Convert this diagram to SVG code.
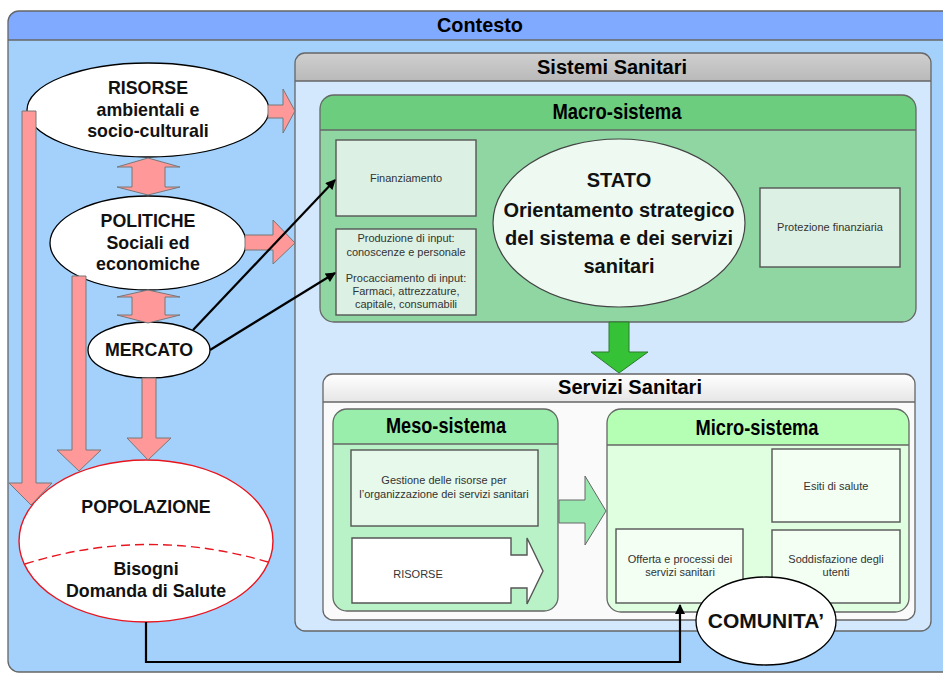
<svg xmlns="http://www.w3.org/2000/svg" width="943" height="674" viewBox="0 0 943 674">
<defs>
<linearGradient id="gGray" x1="0" y1="0" x2="0" y2="1"><stop offset="0" stop-color="#cfcfcf"/><stop offset="1" stop-color="#b9b9b9"/></linearGradient>
<linearGradient id="gLight" x1="0" y1="0" x2="0" y2="1"><stop offset="0" stop-color="#ffffff"/><stop offset="1" stop-color="#e6e6e6"/></linearGradient>
<marker id="ah2" viewBox="0 0 10 10" refX="9" refY="5" markerWidth="12" markerHeight="10" orient="auto" markerUnits="userSpaceOnUse"><path d="M0,0 L10,5 L0,10 z" fill="#000"/></marker>
</defs>
<style>
.frame{stroke:#666;stroke-width:1.3}
.sep{stroke:#666;stroke-width:1.3}
.hd{font-family:"Liberation Sans",Arial,sans-serif;font-weight:bold;fill:#000;text-anchor:middle}
.el{fill:#fff;stroke:#000;stroke-width:1.3}
.et{font-family:"Liberation Sans",Arial,sans-serif;font-weight:bold;font-size:17.8px;fill:#111;text-anchor:middle}
.et20{font-size:20px}
.et21{font-size:21px}
.box{stroke:#555;stroke-width:1.4}
.st{font-family:"Liberation Sans",Arial,sans-serif;font-size:11px;fill:#333;text-anchor:middle}
.pink{fill:#ff9898;stroke:#777;stroke-width:1}
.blk{fill:none;stroke:#000;stroke-width:2.2}
</style>
<rect width="943" height="674" fill="#fff"/>

<g id="contesto">
<rect x="8" y="11" width="960" height="661" rx="11" fill="#a3d1fb"/>
<path d="M8,40 V22 Q8,11 19,11 H968 V40 Z" fill="#80aaff"/>
<rect x="8" y="11" width="960" height="661" rx="11" fill="none" class="frame"/>
<line x1="8" y1="40" x2="943" y2="40" class="sep"/>
<text x="480" y="32" class="hd" font-size="21" textLength="86" lengthAdjust="spacingAndGlyphs">Contesto</text>
</g>

<g id="sistemi-sanitari">
<rect x="295" y="53" width="636" height="578" rx="10" fill="#d3e8fd"/>
<path d="M295,81 V63 Q295,53 305,53 H921 Q931,53 931,63 V81 Z" fill="url(#gGray)"/>
<rect x="295" y="53" width="636" height="578" rx="10" fill="none" class="frame"/>
<line x1="295" y1="81" x2="931" y2="81" class="sep"/>
<text x="612" y="74" class="hd" font-size="20" textLength="150" lengthAdjust="spacingAndGlyphs">Sistemi Sanitari</text>
</g>

<g id="macro-sistema">
<rect x="320" y="95" width="596" height="227" rx="14" fill="#8fd6a3"/>
<path d="M320,130 V109 Q320,95 334,95 H902 Q916,95 916,109 V130 Z" fill="#6dcd7f"/>
<rect x="320" y="95" width="596" height="227" rx="14" fill="none" class="frame"/>
<line x1="320" y1="130" x2="916" y2="130" class="sep"/>
<text x="617" y="119" class="hd" font-size="22" textLength="129" lengthAdjust="spacingAndGlyphs">Macro-sistema</text>
</g>

<g id="finanziamento">
<rect x="336" y="140" width="140" height="76" fill="#dcf1e3" class="box"/>
<text x="406" y="182" class="st">Finanziamento</text>
</g>

<g id="produzione">
<rect x="336" y="229" width="140" height="86" fill="#dcf1e3" class="box"/>
<text x="406" y="242" class="st">Produzione di input:</text>
<text x="406" y="256" class="st">conoscenze e personale</text>
<text x="406" y="282" class="st">Procacciamento di input:</text>
<text x="406" y="295" class="st">Farmaci, attrezzature,</text>
<text x="406" y="308" class="st">capitale, consumabili</text>
</g>

<g id="stato">
<ellipse cx="619" cy="223" rx="126" ry="84" fill="#eefaf1" stroke="#444" stroke-width="1.2"/>
<text x="619" y="187" class="et et20">STATO</text>
<text x="619" y="217" class="et et20">Orientamento strategico</text>
<text x="619" y="245" class="et et20">del sistema e dei servizi</text>
<text x="619" y="273" class="et et20">sanitari</text>
</g>

<g id="protezione">
<rect x="760" y="188" width="140" height="79" fill="#dcf1e3" class="box"/>
<text x="830" y="231" class="st">Protezione finanziaria</text>
</g>

<g id="servizi-sanitari">
<rect x="323" y="374" width="592" height="246" rx="10" fill="#fafafa"/>
<path d="M323,402 V384 Q323,374 333,374 H905 Q915,374 915,384 V402 Z" fill="url(#gLight)"/>
<rect x="323" y="374" width="592" height="246" rx="10" fill="none" class="frame"/>
<line x1="323" y1="402" x2="915" y2="402" class="sep"/>
<text x="630" y="394" class="hd" font-size="20" textLength="144" lengthAdjust="spacingAndGlyphs">Servizi Sanitari</text>
</g>

<g id="meso-sistema">
<rect x="333" y="409" width="225" height="202" rx="14" fill="#b8f2c6"/>
<path d="M333,444 V423 Q333,409 347,409 H544 Q558,409 558,423 V444 Z" fill="#98eeaa"/>
<rect x="333" y="409" width="225" height="202" rx="14" fill="none" class="frame"/>
<line x1="333" y1="444" x2="558" y2="444" class="sep"/>
<text x="446" y="433" class="hd" font-size="22" textLength="120" lengthAdjust="spacingAndGlyphs">Meso-sistema</text>
</g>

<g id="gestione">
<rect x="351" y="450" width="187" height="76" fill="#e6f9eb" class="box"/>
<text x="444" y="484" class="st">Gestione delle risorse per</text>
<text x="444" y="498" class="st">l’organizzazione dei servizi sanitari</text>
</g>

<g id="risorse-arrow">
<path d="M352,538 H511 V555 H527 V538 L543,571 L527,604 V588 H511 V603 H352 Z" fill="#fff" stroke="#555" stroke-width="1.4"/>
<text x="418" y="578" class="st">RISORSE</text>
</g>

<g id="micro-sistema">
<rect x="607" y="409" width="302" height="203" rx="14" fill="#e0ffe0"/>
<path d="M607,445 V423 Q607,409 621,409 H895 Q909,409 909,423 V445 Z" fill="#b4ffb4"/>
<rect x="607" y="409" width="302" height="203" rx="14" fill="none" class="frame"/>
<line x1="607" y1="445" x2="909" y2="445" class="sep"/>
<text x="757" y="435" class="hd" font-size="22" textLength="123" lengthAdjust="spacingAndGlyphs">Micro-sistema</text>
</g>

<g id="esiti">
<rect x="772" y="449" width="128" height="73" fill="#f2fff2" class="box"/>
<text x="836" y="490" class="st">Esiti di salute</text>
</g>

<g id="soddisfazione">
<rect x="772" y="530" width="128" height="73" fill="#f2fff2" class="box"/>
<text x="836" y="563" class="st">Soddisfazione degli</text>
<text x="836" y="576" class="st">utenti</text>
</g>

<g id="offerta">
<rect x="616" y="529" width="127" height="74" fill="#f2fff2" class="box"/>
<text x="680" y="563" class="st">Offerta e processi dei</text>
<text x="680" y="576" class="st">servizi sanitari</text>
</g>

<g id="risorse-amb">
<ellipse cx="148" cy="110" rx="121" ry="47" class="el"/>
<text x="148" y="94" class="et">RISORSE</text>
<text x="148" y="116" class="et">ambientali e</text>
<text x="148" y="137" class="et">socio-culturali</text>
</g>

<g id="politiche">
<ellipse cx="148" cy="243" rx="98" ry="47" class="el"/>
<text x="148" y="227" class="et">POLITICHE</text>
<text x="148" y="249" class="et">Sociali ed</text>
<text x="148" y="270" class="et">economiche</text>
</g>

<g id="mercato">
<ellipse cx="149" cy="350" rx="61" ry="28" class="el"/>
<text x="149" y="356" class="et">MERCATO</text>
</g>

<g id="popolazione">
<ellipse cx="146" cy="541" rx="127" ry="81" fill="#fff" stroke="#e8141e" stroke-width="1.4"/>
<path d="M25,564 Q146,526 268,562" fill="none" stroke="#e8141e" stroke-width="1.4" stroke-dasharray="9,5"/>
<text x="146" y="513" class="et">POPOLAZIONE</text>
<text x="146" y="575" class="et">Bisogni</text>
<text x="146" y="597" class="et">Domanda di Salute</text>
</g>

<g id="connectors">
<path d="M148,158 L180,167 H165 V187 H180 L148,195 L117,187 H132 V167 H117 Z" class="pink"/>
<path d="M148,290 L180,297 H165 V315 H180 L148,323 L117,315 H132 V297 H117 Z" class="pink"/>
<path d="M268,105 H283 V89 L295,111 L283,133 V118 H268 Z" class="pink"/>
<path d="M245,235 H273 V220 L295,243 L273,264 V250 H245 Z" class="pink"/>
<path d="M22,111 H36 V483 H52 L31,505 L9,483 H22 Z" class="pink"/>
<path d="M72,276 H86 V450 H101 L79,471 L57,450 H72 Z" class="pink"/>
<path d="M142,378 H156 V438 H171 L148,460 L127,438 H142 Z" class="pink"/>
<path d="M609,322 H629 V352 H648 L619,373 L591,352 H609 Z" fill="#36c236" stroke="#2a7a2a" stroke-width="1"/>
<path d="M559,500 H585 V476 L606,511 L585,545 V523 H559 Z" fill="#98e8b0" stroke="#666" stroke-width="1"/>
<line x1="193" y1="330" x2="335" y2="180" class="blk" marker-end="url(#ah2)"/>
<line x1="210" y1="350" x2="335" y2="273" class="blk" marker-end="url(#ah2)"/>
<path d="M146,622 V662 H680 V605" class="blk" marker-end="url(#ah2)"/>
</g>

<g id="comunita">
<ellipse cx="766" cy="621" rx="70" ry="44" class="el"/>
<text x="766" y="628" class="et et21">COMUNITA’</text>
</g>
</svg>
